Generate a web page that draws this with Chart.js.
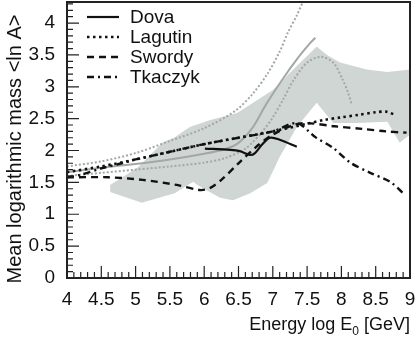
<!DOCTYPE html>
<html>
<head>
<meta charset="utf-8">
<script src="https://cdn.jsdelivr.net/npm/chart.js@4"></script>
<style>
  html, body { margin: 0; padding: 0; background: #fff; }
  #wrap { width: 416px; height: 342px; }
</style>
</head>
<body>
<div id="wrap"><canvas id="chart" width="416" height="342"></canvas></div>
<script>
// axis ticks
const xTicks = [4, 4.5, 5, 5.5, 6, 6.5, 7, 7.5, 8, 8.5, 9];
const yTicks = [0, 0.5, 1, 1.5, 2, 2.5, 3, 3.5, 4];

// black curves
const dovaE = [6.01, 6.38, 6.52, 6.67, 6.74, 6.84, 6.96, 7.1, 7.35];
const dovaY = [2.03, 2.01, 1.99, 1.93, 1.96, 2.09, 2.2, 2.17, 2.06];

const lagutinE = [4, 4.5, 5, 5.5, 6, 6.5, 7, 7.5, 7.75, 8.0, 8.25, 8.5, 8.65, 8.78];
const lagutinY = [1.66, 1.75, 1.86, 1.98, 2.1, 2.2, 2.3, 2.42, 2.48, 2.52, 2.56, 2.6, 2.61, 2.56];

const swordyE = [4, 4.6, 5.1, 5.6, 5.94, 6.08, 6.25, 6.5, 6.75, 7.0, 7.3, 7.5, 7.9, 8.3, 8.65, 8.95];
const swordyY = [1.58, 1.58, 1.54, 1.46, 1.38, 1.41, 1.54, 1.8, 2.05, 2.25, 2.4, 2.43, 2.38, 2.34, 2.3, 2.28];

const tkaczykE = [4, 4.2, 4.5, 4.8, 5, 5.5, 6, 6.5, 7, 7.35, 7.62, 7.88, 8.13, 8.42, 8.71, 8.9];
const tkaczykY = [1.58, 1.62, 1.72, 1.8, 1.86, 1.98, 2.1, 2.2, 2.3, 2.43, 2.21, 2.04, 1.81, 1.65, 1.51, 1.33];

// gray curves
const grayMidE = [4, 4.5, 5, 5.5, 6, 6.3, 6.5, 6.7, 6.9, 7.15, 7.35, 7.54, 7.62];
const grayMidY = [1.66, 1.73, 1.79, 1.86, 1.95, 2.02, 2.12, 2.35, 2.72, 3.13, 3.43, 3.68, 3.77];

const grayHighE = [4, 4.5, 5, 5.5, 6, 6.45, 6.7, 6.92, 7.1, 7.22, 7.35, 7.45, 7.55];
const grayHighY = [1.75, 1.83, 1.96, 2.15, 2.35, 2.62, 2.88, 3.2, 3.55, 3.85, 4.12, 4.36, 4.6];

const grayLowE = [4, 4.5, 5, 5.5, 6, 6.3, 6.6, 6.85, 7.0, 7.15, 7.3, 7.5, 7.7, 7.88, 8.02, 8.1, 8.15];
const grayLowY = [1.6, 1.65, 1.7, 1.75, 1.81, 1.88, 2.03, 2.3, 2.52, 2.8, 3.1, 3.38, 3.47, 3.38, 3.11, 2.9, 2.72];

// shaded band
const bandUpE = [4.63, 5.04, 5.39, 5.57, 5.79, 6.09, 6.48, 6.77, 7.0, 7.25, 7.64, 7.79, 7.98, 8.37, 8.67, 9.0];
const bandUpY = [1.46, 1.74, 2.12, 2.21, 2.37, 2.48, 2.59, 2.79, 2.95, 3.22, 3.63, 3.5, 3.38, 3.27, 3.23, 3.27];
const bandLowE = [4.63, 5.09, 5.57, 5.84, 5.9, 6.23, 6.42, 6.67, 6.92, 7.1, 7.35, 7.64, 7.88, 8.23, 8.67, 8.85, 9.0];
const bandLowY = [1.35, 1.18, 1.33, 1.51, 1.46, 1.26, 1.22, 1.33, 1.49, 1.9, 2.37, 2.75, 2.43, 2.43, 2.45, 2.12, 2.25];

const pts = (xs, ys) => xs.map((x, i) => ({ x: x, y: ys[i] }));

const bandPts = pts(bandUpE, bandUpY).concat(pts(bandLowE, bandLowY).reverse());

const FONT = 'Liberation Sans, Arial, Helvetica, sans-serif';
const GRAY = '#a2a8a6';

function line(label, data, dash, width, color, order, inLegend) {
    return {
        label: label,
        data: data,
        showLine: true,
        borderColor: color,
        borderWidth: width,
        borderDash: dash,
        pointRadius: 0,
        tension: 0.3,
        fill: false,
        order: order,
        inLegend: inLegend
    };
}

// inner frame with ticks pointing into the plot
const frameTicks = {
    id: 'frameTicks',
    afterDraw(chart) {
        const ctx = chart.ctx;
        const a = chart.chartArea;
        const xs = chart.scales.x, ys = chart.scales.y;
        ctx.save();
        ctx.strokeStyle = '#222';
        ctx.lineWidth = 1.2;
        ctx.beginPath();
        for (let i = 0; i < xTicks.length; i++) {
            const px = xs.getPixelForValue(xTicks[i]);
            ctx.moveTo(px, a.bottom); ctx.lineTo(px, a.bottom - 12);
            if (i < xTicks.length - 1) {
                const step = (xTicks[i + 1] - xTicks[i]) / 5;
                for (let k = 1; k < 5; k++) {
                    const mp = xs.getPixelForValue(xTicks[i] + k * step);
                    ctx.moveTo(mp, a.bottom); ctx.lineTo(mp, a.bottom - 6);
                }
            }
        }
        for (let i = 0; i < yTicks.length; i++) {
            const py = ys.getPixelForValue(yTicks[i]);
            ctx.moveTo(a.left, py); ctx.lineTo(a.left + 12, py);
            const step = 0.1;
            for (let k = 1; k < 5; k++) {
                const v = yTicks[i] + k * step;
                if (v > ys.max) break;
                const mp = ys.getPixelForValue(v);
                ctx.moveTo(a.left, mp); ctx.lineTo(a.left + 6, mp);
            }
        }
        ctx.stroke();
        ctx.lineWidth = 2;
        ctx.strokeRect(a.left, a.top, a.right - a.left, a.bottom - a.top);

        // axis titles
        ctx.fillStyle = '#111';
        ctx.textBaseline = 'alphabetic';
        ctx.textAlign = 'left';
        const head = 'Energy log E';
        const sub = '0';
        const tail = ' [GeV]';
        ctx.font = '18px ' + FONT;
        const wTail = ctx.measureText(tail).width;
        const wHead = ctx.measureText(head).width;
        ctx.font = '12px ' + FONT;
        const wSub = ctx.measureText(sub).width;
        const baseY = 330;
        const x0 = a.right - wTail - wSub - wHead;
        ctx.font = '18px ' + FONT;
        ctx.fillText(head, x0, baseY);
        ctx.font = '12px ' + FONT;
        ctx.fillText(sub, x0 + wHead, baseY + 5);
        ctx.font = '18px ' + FONT;
        ctx.fillText(tail, x0 + wHead + wSub, baseY);

        ctx.translate(21, 149);
        ctx.rotate(-Math.PI / 2);
        ctx.font = '20px ' + FONT;
        ctx.textAlign = 'center';
        ctx.fillText('Mean logarithmic mass <ln A>', 0, 0);
        ctx.restore();
    }
};

// legend in the upper left of the plot
const innerLegend = {
    id: 'innerLegend',
    afterDraw(chart) {
        const ctx = chart.ctx;
        const a = chart.chartArea;
        const items = chart.data.datasets.filter(d => d.inLegend);
        ctx.save();
        items.forEach((d, i) => {
            const y = a.top + 15 + i * 20;
            ctx.strokeStyle = d.borderColor;
            ctx.lineWidth = d.borderWidth;
            ctx.setLineDash(d.borderDash);
            ctx.beginPath();
            ctx.moveTo(a.left + 20, y);
            ctx.lineTo(a.left + 52, y);
            ctx.stroke();
            ctx.setLineDash([]);
            ctx.fillStyle = '#111';
            ctx.font = '19px ' + FONT;
            ctx.textBaseline = 'middle';
            ctx.textAlign = 'left';
            ctx.fillText(d.label, a.left + 63, y + 1);
        });
        ctx.restore();
    }
};

const ctx = document.getElementById('chart').getContext('2d');
new Chart(ctx, {
    type: 'scatter',
    data: {
        datasets: [
            line('Dova', pts(dovaE, dovaY), [], 2.2, '#111', 1, true),
            line('Lagutin', pts(lagutinE, lagutinY), [2.5, 3.5], 2.6, '#111', 1, true),
            line('Swordy', pts(swordyE, swordyY), [7, 5], 2.4, '#111', 1, true),
            line('Tkaczyk', pts(tkaczykE, tkaczykY), [7, 4, 2, 4], 2.4, '#111', 1, true),
            line('grayMid', pts(grayMidE, grayMidY), [], 2, GRAY, 5, false),
            line('grayHigh', pts(grayHighE, grayHighY), [2, 2], 2, GRAY, 5, false),
            line('grayLow', pts(grayLowE, grayLowY), [2, 2], 2, GRAY, 5, false),
            {
                label: 'band',
                data: bandPts,
                showLine: true,
                borderWidth: 0,
                borderColor: 'rgba(0,0,0,0)',
                backgroundColor: '#d0d6d4',
                pointRadius: 0,
                tension: 0,
                fill: 'shape',
                order: 10,
                inLegend: false
            }
        ]
    },
    options: {
        responsive: false,
        animation: false,
        devicePixelRatio: 1,
        layout: { padding: { top: 2, right: 6, left: 0, bottom: 0 } },
        plugins: {
            legend: { display: false },
            tooltip: { enabled: false }
        },
        scales: {
            x: {
                type: 'linear',
                min: 4,
                max: 9,
                grid: { display: false },
                border: { display: false },
                afterBuildTicks: (s) => { s.ticks = xTicks.map(v => ({ value: v })); },
                afterFit: (s) => { s.height = 64; s.paddingLeft = 0; s.paddingRight = 0; },
                ticks: {
                    padding: 2,
                    color: '#111',
                    font: { family: FONT, size: 19 },
                    maxRotation: 0,
                    callback: (v) => String(v)
                }
            },
            y: {
                type: 'linear',
                min: 0,
                max: 4.33,
                grid: { display: false },
                border: { display: false },
                afterBuildTicks: (s) => { s.ticks = yTicks.map(v => ({ value: v })); },
                afterFit: (s) => { s.width = 67; s.paddingTop = 0; s.paddingBottom = 0; },
                ticks: {
                    padding: 4,
                    color: '#111',
                    font: { family: FONT, size: 19 },
                    callback: (v) => String(v)
                }
            }
        }
    },
    plugins: [frameTicks, innerLegend]
});
</script>
</body>
</html>
